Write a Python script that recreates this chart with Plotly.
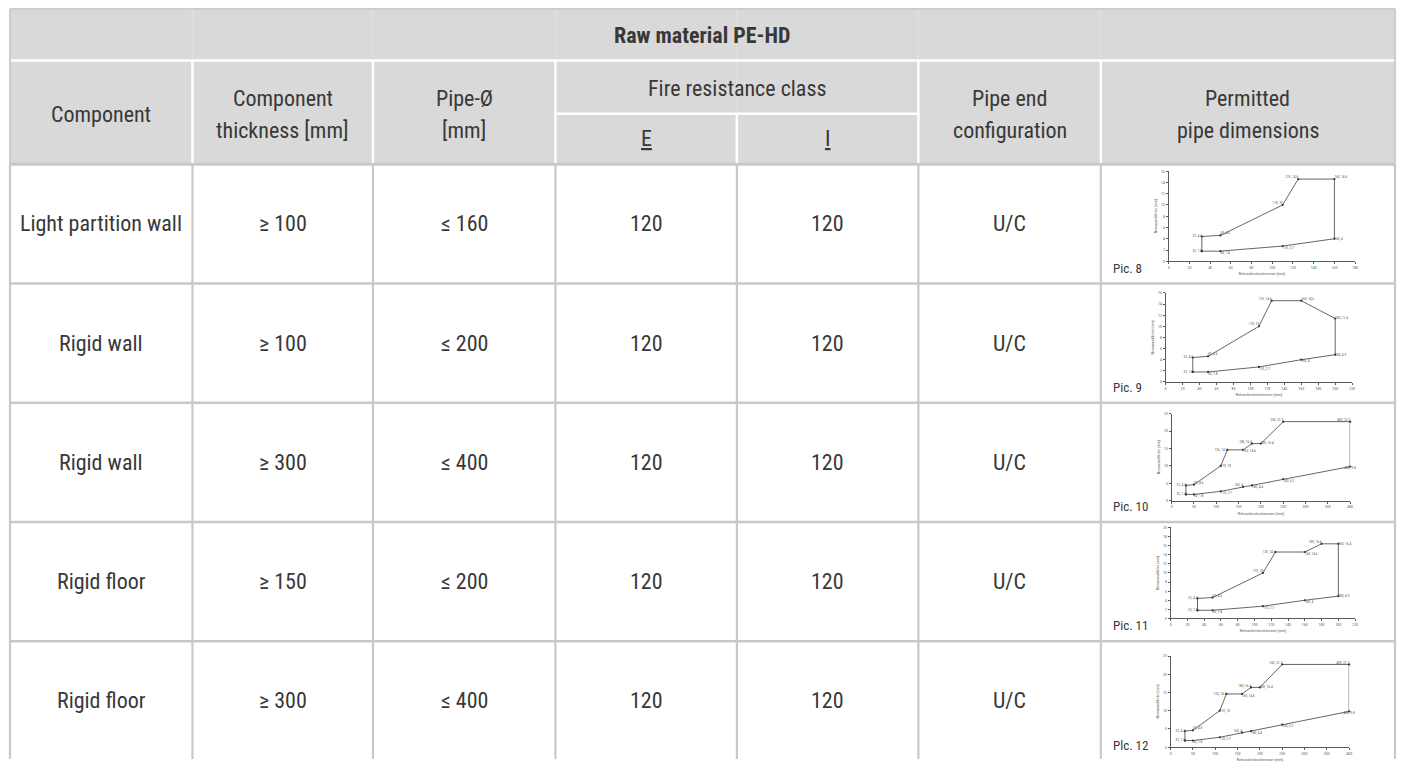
import plotly.graph_objects as go

# ---------------- data ----------------
title_text = "Raw material PE-HD"
header_component = ["Component"]
header_thickness = ["Component", "thickness [mm]"]
header_pipe = ["Pipe-Ø", "[mm]"]
header_fire = "Fire resistance class"
header_fire_sub = ["<u>E</u>", "<u>I</u>"]
header_end = ["Pipe end", "configuration"]
header_dims = ["Permitted", "pipe dimensions"]

components = ["Light partition wall", "Rigid wall", "Rigid wall", "Rigid floor", "Rigid floor"]
thickness = ["≥ 100", "≥ 100", "≥ 300", "≥ 150", "≥ 300"]
pipe_diameter = ["≤ 160", "≤ 200", "≤ 400", "≤ 200", "≤ 400"]
class_E = [120, 120, 120, 120, 120]
class_I = [120, 120, 120, 120, 120]
pipe_end = ["U/C", "U/C", "U/C", "U/C", "U/C"]
pic_names = ["Pic. 8", "Pic. 9", "Pic. 10", "Pic. 11", "Plc. 12"]

# permitted pipe dimension polygons (outer diameter [mm], wall thickness [mm])
pic8_x = [32, 32, 50, 110, 125, 160, 160, 110, 50, 32]
pic8_y = [1.8, 4.4, 4.6, 10, 14.6, 14.6, 4, 2.7, 1.8, 1.8]
pic9_x = [32, 32, 50, 110, 125, 160, 200, 200, 160, 110, 50, 32]
pic9_y = [1.8, 4.4, 4.6, 10, 14.6, 14.6, 11.4, 4.9, 4, 2.7, 1.8, 1.8]
pic10_x = [32, 32, 50, 110, 125, 160, 180, 200, 250, 400, 400, 250, 180, 160, 110, 50, 32]
pic10_y = [1.8, 4.4, 4.6, 10, 14.6, 14.6, 16.4, 16.4, 22.7, 22.7, 9.8, 6.2, 4.4, 4, 2.7, 1.8, 1.8]
pic11_x = [32, 32, 50, 110, 125, 160, 180, 200, 200, 160, 110, 50, 32]
pic11_y = [1.8, 4.4, 4.6, 10, 14.6, 14.6, 16.4, 16.4, 4.9, 4, 2.7, 1.8, 1.8]
pic12_x = [32, 32, 50, 110, 125, 160, 180, 200, 250, 400, 400, 250, 180, 160, 110, 50, 32]
pic12_y = [1.8, 4.4, 4.6, 10, 14.6, 14.6, 16.4, 16.4, 22.7, 22.7, 9.8, 6.2, 4.4, 4, 2.7, 1.8, 1.8]

pic_x_max = [180, 220, 400, 220, 400]
pic_x_step = [20, 20, 50, 20, 50]
pic_y_max = [16, 16, 25, 20, 25]
pic_y_step = [2, 2, 5, 2, 5]
pic_x_title = "Rohraußendurchmesser [mm]"
pic_y_title = "Nennwanddicke [mm]"

# ---------------- styling / geometry (pixels) ----------------
W, H = 1403, 762
COL = [9, 192, 373, 556, 738, 920, 1103, 1398]
Y_TOP, Y_R1, Y_SPLIT, Y_HEAD = 6, 58, 112, 163
ROW_H = 120.5
chart_boxes = [(1171, 1358, 170, 261), (1168, 1355, 293, 383), (1174, 1353, 415, 503),
               (1173, 1358, 530, 622), (1173, 1352, 660, 752)]

# label placement for the polygon vertices of each small chart
pos8 = ["middle left", "middle left", "top right", "top left", "top left", "top right",
        "middle right", "bottom right", "bottom right"]
pos9 = ["middle left", "middle left", "top right", "top left", "top left", "top right",
        "middle right", "middle right", "bottom right", "bottom right", "bottom right"]
pos10 = ["middle left", "middle left", "top right", "middle right", "middle left", "bottom right",
         "top left", "middle right", "top left", "top left", "bottom center", "bottom right",
         "bottom right", "top left", "bottom right", "bottom right"]
pos11 = ["middle left", "middle left", "top right", "top left", "middle left", "bottom right",
         "top left", "middle right", "middle right", "bottom right", "bottom right", "bottom right"]
pos12 = list(pos10)

FONT = ("Noto Sans ExtraCondensed, Noto Sans Condensed, Roboto Condensed, DejaVu Sans Condensed, "
        "Liberation Sans Narrow, Noto Sans, sans-serif")
TXT = "#383838"
GRID = "#c8c8c8"
HEAD_BG = "#d9d9d9"


def X(p):
    return p / W


def Y(p):
    return 1 - p / H


def cond(s):
    return f"<span style='font-stretch:condensed'>{s}</span>"


shapes = []
annotations = []


def line(x0, y0, x1, y1, color, width):
    shapes.append(dict(type="line", xref="paper", yref="paper", x0=X(x0), y0=Y(y0),
                       x1=X(x1), y1=Y(y1), line=dict(color=color, width=width), layer="below"))


def text(x, y, s, size=22, bold=False, anchor="center", color=TXT):
    s = cond(s)
    annotations.append(dict(xref="paper", yref="paper", x=X(x), y=Y(y), text=(f"<b>{s}</b>" if bold else s),
                            showarrow=False, xanchor=anchor, yanchor="middle",
                            font=dict(family=FONT, size=size, color=color)))


# header background
shapes.append(dict(type="rect", xref="paper", yref="paper", x0=X(COL[0]), x1=X(COL[-1]),
                   y0=Y(Y_HEAD), y1=Y(Y_TOP), fillcolor=HEAD_BG, line=dict(width=0), layer="below"))
for c in COL[1:-1]:
    line(c, Y_TOP, c, Y_R1, "#e1e1e1", 1)
line(COL[4], Y_R1, COL[4], Y_SPLIT, "#e1e1e1", 1)
line(COL[0], Y_R1, COL[-1], Y_R1, "white", 2.5)
for c in [COL[1], COL[2], COL[3], COL[5], COL[6]]:
    line(c, Y_R1, c, Y_HEAD, "white", 2.5)
line(COL[4], Y_SPLIT, COL[4], Y_HEAD, "white", 2.5)
line(COL[3], Y_SPLIT, COL[5], Y_SPLIT, "white", 2.5)
line(COL[0], Y_TOP, COL[-1], Y_TOP, "#cdcdcd", 2)
line(COL[0], Y_TOP, COL[0], Y_HEAD, "#cdcdcd", 2)
line(COL[-1], Y_TOP, COL[-1], Y_HEAD, "#cdcdcd", 2)
for c in COL:
    line(c, Y_HEAD, c, H + 2, GRID, 2.2)
line(COL[0], Y_HEAD, COL[-1], Y_HEAD, GRID, 3)
for i in range(1, len(components)):
    yb = Y_HEAD + ROW_H * i
    line(COL[0], yb, COL[-1], yb, GRID, 2.5)


def centre(i):
    return (COL[i] + COL[i + 1]) / 2


text((COL[0] + COL[-1]) / 2, 33, title_text, bold=True)
text(centre(0), 113, header_component[0])
for ci, lines in [(1, header_thickness), (2, header_pipe), (5, header_end), (6, header_dims)]:
    text(centre(ci), 97, lines[0])
    text(centre(ci), 129, lines[1])
text((COL[3] + COL[5]) / 2, 86, header_fire)
text(centre(3), 137, header_fire_sub[0])
text(centre(4), 137, header_fire_sub[1])

for r in range(len(components)):
    yc = Y_HEAD + ROW_H * r + ROW_H / 2
    for ci, val in enumerate([components[r], thickness[r], pipe_diameter[r], class_E[r], class_I[r], pipe_end[r]]):
        text(centre(ci), yc, str(val))
    text(1113, Y_HEAD + ROW_H * r + 105, pic_names[r], size=13, anchor="left")

# small charts
fig = go.Figure()
pics = [(pic8_x, pic8_y), (pic9_x, pic9_y), (pic10_x, pic10_y), (pic11_x, pic11_y), (pic12_x, pic12_y)]
positions_all = [pos8, pos9, pos10, pos11, pos12]
layout_axes = {}
small_font = dict(family=FONT, size=4, color="#666")
for k, ((xs, ys), (bx0, bx1, by0, by1)) in enumerate(zip(pics, chart_boxes)):
    s = "" if k == 0 else str(k + 1)
    ax_common = dict(showline=True, linecolor="#5a5a5a", linewidth=0.8, showgrid=False, zeroline=False,
                     ticks="outside", ticklen=2, tickwidth=0.6, tickcolor="#5a5a5a",
                     tickfont=small_font, tick0=0, fixedrange=True)
    layout_axes[f"xaxis{s}"] = dict(ax_common, domain=[X(bx0), X(bx1)], range=[0, pic_x_max[k]],
                                    dtick=pic_x_step[k], anchor=f"y{s}",
                                    title=dict(text=pic_x_title, font=small_font, standoff=3))
    layout_axes[f"yaxis{s}"] = dict(ax_common, domain=[Y(by1), Y(by0)], range=[0, pic_y_max[k]],
                                    dtick=pic_y_step[k], anchor=f"x{s}",
                                    title=dict(text=pic_y_title, font=small_font, standoff=3))
    fig.add_trace(go.Scatter(x=xs, y=ys, mode="lines+markers", line=dict(color="#555", width=0.9),
                             marker=dict(size=2.2, color="#333"), xaxis=f"x{s}", yaxis=f"y{s}",
                             hoverinfo="skip", showlegend=False, cliponaxis=False))
    pts_x, pts_y = xs[:-1], ys[:-1]
    fig.add_trace(go.Scatter(x=pts_x, y=pts_y, mode="text",
                             text=[f"{a}, {b:g}" for a, b in zip(pts_x, pts_y)],
                             textposition=positions_all[k], textfont=dict(family=FONT, size=3.5, color="#555"),
                             xaxis=f"x{s}", yaxis=f"y{s}", hoverinfo="skip", showlegend=False,
                             cliponaxis=False))

fig.update_layout(width=W, height=H, margin=dict(l=0, r=0, t=0, b=0), paper_bgcolor="white",
                  plot_bgcolor="rgba(0,0,0,0)", showlegend=False, shapes=shapes, annotations=annotations,
                  **layout_axes)

fig.write_html("out.html", config={"displayModeBar": False},
               post_script="document.body.style.margin='0';document.body.style.overflow='hidden';")
